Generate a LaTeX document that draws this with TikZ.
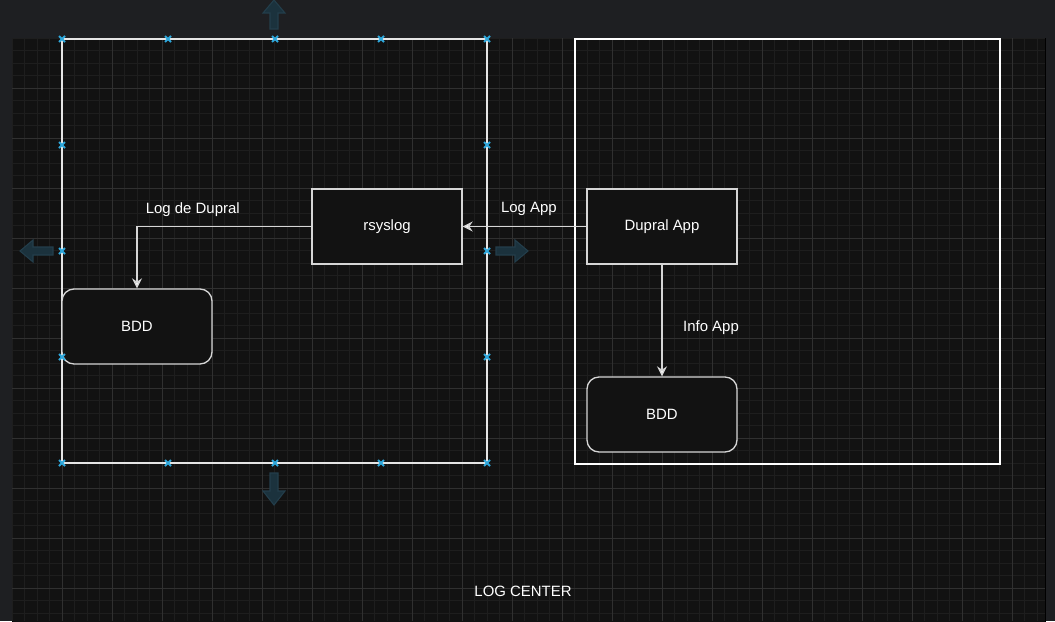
\documentclass[tikz,border=0pt]{standalone}
\usepackage{fontspec}
\setsansfont{Liberation Sans}
\usetikzlibrary{arrows.meta,positioning}

\definecolor{pagebg}{HTML}{1E1F22}
\definecolor{canvasbg}{HTML}{121212}
\definecolor{gridminor}{HTML}{1E1E1E}
\definecolor{gridmajor}{HTML}{303030}
\definecolor{handleblue}{HTML}{2FA8DC}
\definecolor{handlefill}{HTML}{1B323D}
\definecolor{handleline}{HTML}{233E4B}
\definecolor{edgegray}{HTML}{D6D6D6}

\begin{document}
\begin{tikzpicture}[x=0.75pt, y=-0.75pt,
    base/.style = {rectangle, draw=edgegray, fill=canvasbg, line width=1pt,
minimum width=112.5pt, minimum height=56.25pt,
text centered, text=white, font=\sffamily\fontsize{11.2}{13}\selectfont},
process/.style = {base},
store/.style = {base, rounded corners=9pt},
container/.style = {draw=white, line width=1pt},
flow/.style = {draw=edgegray, line width=1pt,
-{Stealth[length=7.5pt,width=7.5pt,inset=2.5pt,fill=white]}},
lbl/.style = {text=white, inner sep=0pt,
font=\sffamily\fontsize{11.2}{13}\selectfont},
handlex/.style = {draw=handleblue, line width=1.5pt},
handlearrow/.style = {fill=handlefill, draw=handleline, line width=0.8pt}
]

  % page and canvas
  \useasboundingbox (0,0) rectangle (1055,621);
  \fill[pagebg] (0,0) rectangle (1055,621);
  \draw[fill=canvasbg, draw=black] (12,38) rectangle (1045,622);
  \foreach \x in {12,24.5,...,1045} \draw[gridminor] (\x,38) -- (\x,621);
  \foreach \y in {38,50.5,...,621} \draw[gridminor] (12,\y) -- (1045,\y);
  \foreach \x in {62,112,...,1012} \draw[gridmajor] (\x,38) -- (\x,621);
  \foreach \y in {88,138,...,588} \draw[gridmajor] (12,\y) -- (1045,\y);

  % containers
  \draw[container, draw=black!10] (62,39) rectangle (487,463);
  \draw[container] (575,39) rectangle (1000,464);

  % selection arrows
  \draw[handlearrow] (274,0) -- (285,13) -- (278,13) -- (278,29) -- (270,29) -- (270,13) -- (263,13) -- cycle;
  \draw[handlearrow] (274,505) -- (285,491) -- (278,491) -- (278,473) -- (270,473) -- (270,491) -- (263,491) -- cycle;
  \draw[handlearrow] (20,251) -- (33,240) -- (33,247) -- (53,247) -- (53,255) -- (33,255) -- (33,262) -- cycle;
  \draw[handlearrow] (528,251) -- (515,240) -- (515,247) -- (496,247) -- (496,255) -- (515,255) -- (515,262) -- cycle;

  % nodes
  \node (rsyslog) [process] at (387,226.5) {rsyslog};
  \node (dupral)  [process, right=92.75pt of rsyslog] {Dupral App};
  \node (bddR)    [store, below=83.75pt of dupral] {BDD};
  \node (bddL)    [store] at (137,326.5) {BDD};

  \draw[flow] (dupral.west) -- node (logapp) [lbl, pos=0.464, yshift=13pt] {Log App} (rsyslog.east);
  \draw[flow] (rsyslog.west) -| node (logdupral) [lbl, pos=0.34, yshift=13pt] {Log de Dupral} (bddL.north);
  \draw[flow] (dupral.south) -- node (infoapp) [lbl, pos=0.565, xshift=36.75pt] {Info App} (bddR.north);

  \node (logcenter) [lbl] at (523,591) {LOG CENTER};

  % connection handles
  \foreach \hx/\hy in {62/39,168/39,275/39,381/39,487/39,
                       62/463,168/463,275/463,381/463,487/463,
                       62/145,62/251,62/357,487/145,487/251,487/357}
    \draw[handlex, shift={(\hx,\hy)}] (-3,-3) -- (3,3) (-3,3) -- (3,-3);

\end{tikzpicture}
\end{document}
